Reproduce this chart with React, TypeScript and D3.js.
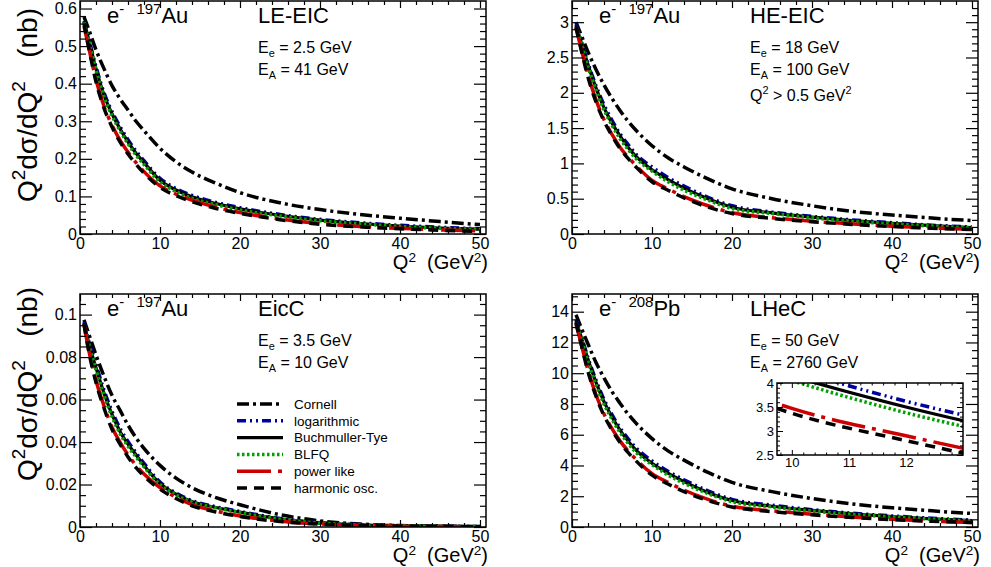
import React, { useEffect, useRef } from 'react';
import * as d3 from 'd3';

// Q^2 sample points (GeV^2)
const q2 = [0.5, 1, 2, 3, 4, 5, 6, 7, 8, 10, 12, 14, 17, 20, 25, 30, 35, 40, 45, 50];

const modelNames = ['Cornell', 'logarithmic', 'Buchmuller-Tye', 'BLFQ', 'power like', 'harmonic osc.'];

// LE-EIC (nb)
const leCornell = [0.578, 0.55, 0.49, 0.44, 0.395, 0.36, 0.33, 0.30, 0.275, 0.228, 0.192, 0.165, 0.135, 0.11, 0.083, 0.065, 0.052, 0.042, 0.033, 0.025];
const leLog = [0.567, 0.528, 0.445, 0.376, 0.326, 0.286, 0.251, 0.221, 0.195, 0.148, 0.121, 0.103, 0.084, 0.07, 0.052, 0.039, 0.03, 0.023, 0.018, 0.014];
const leBT = [0.565, 0.525, 0.44, 0.37, 0.32, 0.28, 0.245, 0.215, 0.19, 0.143, 0.117, 0.099, 0.081, 0.067, 0.05, 0.037, 0.028, 0.021, 0.016, 0.013];
const leBLFQ = [0.563, 0.522, 0.436, 0.365, 0.315, 0.275, 0.24, 0.21, 0.185, 0.139, 0.113, 0.095, 0.078, 0.064, 0.048, 0.035, 0.027, 0.02, 0.015, 0.012];
const lePower = [0.553, 0.505, 0.41, 0.34, 0.29, 0.25, 0.218, 0.19, 0.166, 0.128, 0.106, 0.09, 0.071, 0.057, 0.04, 0.028, 0.02, 0.015, 0.011, 0.008];
const leHarm = [0.56, 0.505, 0.405, 0.335, 0.285, 0.245, 0.213, 0.186, 0.162, 0.124, 0.102, 0.086, 0.068, 0.055, 0.038, 0.026, 0.019, 0.014, 0.01, 0.007];

// HE-EIC (nb)
const heCornell = [3.0, 2.86, 2.58, 2.33, 2.11, 1.92, 1.75, 1.6, 1.47, 1.25, 1.08, 0.95, 0.78, 0.64, 0.5, 0.4, 0.32, 0.27, 0.225, 0.19];
const heLog = [2.97, 2.79, 2.42, 2.1, 1.83, 1.61, 1.42, 1.27, 1.13, 0.95, 0.8, 0.68, 0.52, 0.4, 0.31, 0.25, 0.2, 0.16, 0.125, 0.099];
const heBT = [2.95, 2.77, 2.4, 2.07, 1.79, 1.57, 1.39, 1.23, 1.1, 0.91, 0.77, 0.65, 0.5, 0.38, 0.3, 0.24, 0.19, 0.15, 0.12, 0.092];
const heBLFQ = [2.93, 2.75, 2.37, 2.04, 1.76, 1.54, 1.35, 1.2, 1.07, 0.89, 0.74, 0.62, 0.48, 0.36, 0.29, 0.23, 0.18, 0.143, 0.112, 0.088];
const hePower = [2.92, 2.69, 2.25, 1.9, 1.62, 1.41, 1.23, 1.09, 0.97, 0.76, 0.64, 0.53, 0.4, 0.3, 0.23, 0.18, 0.143, 0.11, 0.084, 0.066];
const heHarm = [2.93, 2.68, 2.22, 1.87, 1.6, 1.39, 1.21, 1.07, 0.95, 0.74, 0.62, 0.51, 0.38, 0.29, 0.22, 0.174, 0.136, 0.106, 0.081, 0.064];

// EicC (nb)
const ecCornell = [0.0975, 0.092, 0.081, 0.071, 0.062, 0.055, 0.048, 0.042, 0.037, 0.029, 0.023, 0.0185, 0.0138, 0.0105, 0.0058, 0.0029, 0.0014, 0.0007, 0.0004, 0.0002];
const ecLog = [0.0965, 0.089, 0.0765, 0.0645, 0.0545, 0.0465, 0.0403, 0.035, 0.03, 0.0212, 0.016, 0.0124, 0.0095, 0.0073, 0.004, 0.002, 0.0011, 0.0006, 0.0004, 0.0002];
const ecBT = [0.096, 0.088, 0.075, 0.063, 0.053, 0.045, 0.039, 0.034, 0.029, 0.0205, 0.0155, 0.012, 0.0092, 0.007, 0.0038, 0.0019, 0.001, 0.0006, 0.0004, 0.0002];
const ecBLFQ = [0.0955, 0.0875, 0.074, 0.062, 0.052, 0.044, 0.038, 0.033, 0.0283, 0.02, 0.0151, 0.0117, 0.009, 0.0068, 0.0037, 0.0018, 0.001, 0.0006, 0.0003, 0.0002];
const ecPower = [0.0955, 0.085, 0.069, 0.057, 0.047, 0.04, 0.034, 0.029, 0.025, 0.0185, 0.014, 0.0105, 0.0075, 0.0052, 0.0028, 0.0014, 0.0008, 0.0004, 0.0002, 0.0001];
const ecHarm = [0.0955, 0.0845, 0.068, 0.056, 0.046, 0.039, 0.033, 0.028, 0.024, 0.0178, 0.0134, 0.01, 0.0071, 0.0049, 0.0026, 0.0013, 0.0007, 0.0004, 0.0002, 0.0001];

// LHeC (nb)
const lhCornell = [13.8, 13.15, 11.9, 10.7, 9.7, 8.8, 8.05, 7.35, 6.75, 5.75, 4.95, 4.35, 3.55, 2.9, 2.3, 1.85, 1.5, 1.25, 1.05, 0.88];
const lhLog = [13.5, 12.7, 11.0, 9.55, 8.3, 7.3, 6.45, 5.75, 5.15, 4.3, 3.62, 3.07, 2.35, 1.8, 1.42, 1.13, 0.9, 0.72, 0.57, 0.45];
const lhBT = [13.4, 12.6, 10.9, 9.4, 8.15, 7.15, 6.3, 5.6, 5.0, 4.15, 3.5, 2.95, 2.25, 1.72, 1.35, 1.08, 0.85, 0.68, 0.53, 0.42];
const lhBLFQ = [13.3, 12.5, 10.75, 9.25, 8.0, 7.0, 6.15, 5.45, 4.85, 4.05, 3.38, 2.84, 2.17, 1.65, 1.3, 1.04, 0.82, 0.65, 0.51, 0.4];
const lhPower = [13.2, 12.2, 10.2, 8.6, 7.35, 6.4, 5.6, 4.95, 4.4, 3.47, 2.9, 2.4, 1.8, 1.35, 1.05, 0.83, 0.65, 0.5, 0.38, 0.3];
const lhHarm = [13.3, 12.2, 10.1, 8.5, 7.25, 6.3, 5.5, 4.85, 4.3, 3.37, 2.8, 2.3, 1.72, 1.3, 1.0, 0.79, 0.62, 0.48, 0.37, 0.29];

const insetXTicks = [10, 11, 12];
const insetYTicks = [2.5, 3, 3.5, 4];

const lineStyles = [
  { color: '#000000', dash: '12,4,3,4', width: 3.5 },
  { color: '#0000a0', dash: '9,4,2,4,2,4', width: 3.5 },
  { color: '#000000', dash: null, width: 3.2 },
  { color: '#00a000', dash: '2.5,2.5', width: 3.5 },
  { color: '#cc0000', dash: '34,7,4,7', width: 3.5 },
  { color: '#000000', dash: '10,7', width: 3.5 },
];

const FONT = 'Liberation Sans, Arial, Helvetica, sans-serif';

const panels = [
  { left: 80, top: 1, ymax: 0.62, major: 0.1, minor: 0.02, values: [leCornell, leLog, leBT, leBLFQ, lePower, leHarm],
    nucleus: ['197', 'Au'], name: 'LE-EIC', info: [['2.5'], ['41']], extra: false, ytitle: true, legend: false, inset: false, titleEnd: 8 },
  { left: 572, top: 1, ymax: 3.3, major: 0.5, minor: 0.1, values: [heCornell, heLog, heBT, heBLFQ, hePower, heHarm],
    nucleus: ['197', 'Au'], name: 'HE-EIC', info: [['18'], ['100']], extra: true, ytitle: false, legend: false, inset: false, titleEnd: 8 },
  { left: 80, top: 294, ymax: 0.1097, major: 0.02, minor: 0.005, values: [ecCornell, ecLog, ecBT, ecBLFQ, ecPower, ecHarm],
    nucleus: ['197', 'Au'], name: 'EicC', info: [['3.5'], ['10']], extra: false, ytitle: true, legend: true, inset: false, titleEnd: 287 },
  { left: 572, top: 294, ymax: 15.15, major: 2, minor: 0.5, values: [lhCornell, lhLog, lhBT, lhBLFQ, lhPower, lhHarm],
    nucleus: ['208', 'Pb'], name: 'LHeC', info: [['50'], ['2760']], extra: false, ytitle: false, legend: false, inset: true, titleEnd: 287 },
];

const PW = 406;
const PH = 233;

function rich(sel: any, parts: [string, string][], size: number, supRaise = 0.42) {
  let shift = 0;
  parts.forEach(([t, k]) => {
    const target = k === 'sup' ? -size * supRaise : k === 'sub' ? size * 0.28 : 0;
    sel.append('tspan').attr('dy', target - shift).attr('font-size', k === 'n' ? size : size * 0.68).text(t);
    shift = target;
  });
}

function styleCurve(path: any, i: number) {
  const s = lineStyles[i];
  path.attr('fill', 'none').attr('stroke', s.color).attr('stroke-width', s.width).attr('stroke-linecap', 'butt');
  if (s.dash) path.attr('stroke-dasharray', s.dash);
}

function fmt(v: number) {
  return String(+v.toFixed(4));
}

function drawPanel(svg: any, p: any, idx: number) {
  const x = d3.scaleLinear().domain([0, 50.75]).range([p.left, p.left + PW]);
  const y = d3.scaleLinear().domain([0, p.ymax]).range([p.top + PH, p.top]);
  const bottom = p.top + PH;
  const right = p.left + PW;

  const clipId = `clip-${idx}`;
  svg.append('clipPath').attr('id', clipId).append('rect')
    .attr('x', p.left).attr('y', p.top).attr('width', PW).attr('height', PH);

  const line = d3.line<number>().x((_, i) => x(q2[i])).y((d) => y(d)).curve(d3.curveMonotoneX);
  const curves = svg.append('g').attr('clip-path', `url(#${clipId})`);
  p.values.forEach((vals: number[], i: number) => {
    styleCurve(curves.append('path').datum(vals).attr('d', line), i);
  });

  const xMajor = d3.range(0, 50.001, 10);
  const xMinor = d3.range(0, 50.75, 2).filter((v) => v % 10 !== 0);
  const yMajor = d3.range(0, p.ymax + 1e-9, p.major);
  const yMinor = d3.range(0, p.ymax, p.minor).filter((v) => Math.abs(v / p.major - Math.round(v / p.major)) > 1e-6);

  const axes = svg.append('g').attr('font-family', FONT);
  const addAxis = (axis: any, tr: string, labels: boolean) => {
    const g = axes.append('g').attr('transform', tr).call(axis);
    g.select('.domain').remove();
    g.selectAll('line').attr('stroke-width', 1.2);
    g.attr('font-size', 16).attr('font-family', FONT);
    if (!labels) g.selectAll('text').remove();
    return g;
  };
  addAxis(d3.axisBottom(x).tickValues(xMajor).tickSizeInner(-7).tickSizeOuter(0).tickPadding(4).tickFormat((d: any) => fmt(d)), `translate(0,${bottom})`, true);
  addAxis(d3.axisBottom(x).tickValues(xMinor).tickSizeInner(-4).tickSizeOuter(0), `translate(0,${bottom})`, false);
  addAxis(d3.axisTop(x).tickValues(xMajor).tickSizeInner(-7).tickSizeOuter(0), `translate(0,${p.top})`, false);
  addAxis(d3.axisTop(x).tickValues(xMinor).tickSizeInner(-4).tickSizeOuter(0), `translate(0,${p.top})`, false);
  addAxis(d3.axisLeft(y).tickValues(yMajor).tickSizeInner(-12).tickSizeOuter(0).tickPadding(3).tickFormat((d: any) => fmt(d)), `translate(${p.left},0)`, true);
  addAxis(d3.axisLeft(y).tickValues(yMinor).tickSizeInner(-6).tickSizeOuter(0), `translate(${p.left},0)`, false);
  addAxis(d3.axisRight(y).tickValues(yMajor).tickSizeInner(-12).tickSizeOuter(0), `translate(${right},0)`, false);
  addAxis(d3.axisRight(y).tickValues(yMinor).tickSizeInner(-6).tickSizeOuter(0), `translate(${right},0)`, false);

  svg.append('rect').attr('x', p.left).attr('y', p.top).attr('width', PW).attr('height', PH)
    .attr('fill', 'none').attr('stroke', '#000').attr('stroke-width', 1.5);

  // x title
  const xt = svg.append('text').attr('x', right + 2).attr('y', bottom + 35).attr('text-anchor', 'end')
    .attr('font-family', FONT).style('white-space', 'pre');
  rich(xt, [['Q', 'n'], ['2', 'sup'], ['  (GeV', 'n'], ['2', 'sup'], [')', 'n']], 20, 0.36);

  // y title
  if (p.ytitle) {
    const yt = svg.append('text').attr('transform', `translate(37,${p.titleEnd}) rotate(-90)`)
      .attr('text-anchor', 'end').attr('font-family', FONT).style('white-space', 'pre');
    rich(yt, [['Q', 'n'], ['2', 'sup'], ['dσ/dQ', 'n'], ['2', 'sup'], ['   (nb)', 'n']], 28);
  }

  // annotations
  const t1 = svg.append('text').attr('x', p.left + 27).attr('y', p.top + 22).attr('font-family', FONT).style('white-space', 'pre');
  rich(t1, [['e', 'n'], ['-', 'sup'], ['  ', 'n'], [p.nucleus[0], 'sup'], [p.nucleus[1], 'n']], 22);
  svg.append('text').attr('x', p.left + 178).attr('y', p.top + 22).attr('font-family', FONT).attr('font-size', 22).text(p.name);

  const t2 = svg.append('text').attr('x', p.left + 178).attr('y', p.top + 52).attr('font-family', FONT);
  rich(t2, [['E', 'n'], ['e', 'sub'], [` = ${p.info[0][0]} GeV`, 'n']], 16);
  const t3 = svg.append('text').attr('x', p.left + 178).attr('y', p.top + 74).attr('font-family', FONT);
  rich(t3, [['E', 'n'], ['A', 'sub'], [` = ${p.info[1][0]} GeV`, 'n']], 16);
  if (p.extra) {
    const t4 = svg.append('text').attr('x', p.left + 178).attr('y', p.top + 100).attr('font-family', FONT);
    rich(t4, [['Q', 'n'], ['2', 'sup'], [' > 0.5 GeV', 'n'], ['2', 'sup']], 16);
  }

  if (p.legend) {
    modelNames.forEach((name, i) => {
      const ly = p.top + 110 + i * 16.8;
      styleCurve(svg.append('path').attr('d', `M${p.left + 157},${ly}H${p.left + 203}`), i);
      svg.append('text').attr('x', p.left + 214).attr('y', ly).attr('dy', '0.35em')
        .attr('font-family', FONT).attr('font-size', 13.5).text(name);
    });
  }

  if (p.inset) drawInset(svg, p, idx);
}

function drawInset(svg: any, p: any, idx: number) {
  const L = p.left + 205, R = p.left + 391, T = p.top + 89, B = p.top + 161;
  const x = d3.scaleLinear().domain([9.74, 13]).range([L, R]);
  const y = d3.scaleLinear().domain([2.5, 4.0]).range([B, T]);
  svg.append('rect').attr('x', L).attr('y', T).attr('width', R - L).attr('height', B - T).attr('fill', '#fff');
  const clipId = `clip-inset-${idx}`;
  svg.append('clipPath').attr('id', clipId).append('rect').attr('x', L).attr('y', T).attr('width', R - L).attr('height', B - T);
  const line = d3.line<number>().x((_, i) => x(q2[i])).y((d) => y(d)).curve(d3.curveMonotoneX);
  const g = svg.append('g').attr('clip-path', `url(#${clipId})`);
  p.values.forEach((vals: number[], i: number) => {
    styleCurve(g.append('path').datum(vals).attr('d', line), i);
  });

  const xMinor = d3.range(9.8, 13, 0.2).filter((v) => Math.abs(v - Math.round(v)) > 1e-6);
  const yMinor = d3.range(2.5, 4.0, 0.1).filter((v) => Math.abs(v * 2 - Math.round(v * 2)) > 1e-6);
  const add = (axis: any, tr: string, labels: boolean) => {
    const a = svg.append('g').attr('transform', tr).call(axis);
    a.select('.domain').remove();
    a.selectAll('line').attr('stroke-width', 1);
    a.attr('font-size', 13).attr('font-family', FONT);
    if (!labels) a.selectAll('text').remove();
  };
  add(d3.axisBottom(x).tickValues(insetXTicks).tickSizeInner(-5).tickSizeOuter(0).tickPadding(3).tickFormat((d: any) => fmt(d)), `translate(0,${B})`, true);
  add(d3.axisBottom(x).tickValues(xMinor).tickSizeInner(-2.5).tickSizeOuter(0), `translate(0,${B})`, false);
  add(d3.axisTop(x).tickValues(insetXTicks).tickSizeInner(-5).tickSizeOuter(0), `translate(0,${T})`, false);
  add(d3.axisTop(x).tickValues(xMinor).tickSizeInner(-2.5).tickSizeOuter(0), `translate(0,${T})`, false);
  add(d3.axisLeft(y).tickValues(insetYTicks).tickSizeInner(-6).tickSizeOuter(0).tickPadding(3).tickFormat((d: any) => fmt(d)), `translate(${L},0)`, true);
  add(d3.axisLeft(y).tickValues(yMinor).tickSizeInner(-3).tickSizeOuter(0), `translate(${L},0)`, false);
  add(d3.axisRight(y).tickValues(insetYTicks).tickSizeInner(-6).tickSizeOuter(0), `translate(${R},0)`, false);
  add(d3.axisRight(y).tickValues(yMinor).tickSizeInner(-3).tickSizeOuter(0), `translate(${R},0)`, false);
  svg.append('rect').attr('x', L).attr('y', T).attr('width', R - L).attr('height', B - T)
    .attr('fill', 'none').attr('stroke', '#000').attr('stroke-width', 1.5);
}

export default function App() {
  const ref = useRef<SVGSVGElement>(null);
  useEffect(() => {
    const svg = d3.select(ref.current);
    svg.selectAll('*').remove();
    svg.append('rect').attr('width', 991).attr('height', 567).attr('fill', '#fff');
    panels.forEach((p, i) => drawPanel(svg, p, i));
  }, []);
  return (
    <svg ref={ref} width={991} height={567} style={{ position: 'absolute', left: 0, top: 0 }} />
  );
}
